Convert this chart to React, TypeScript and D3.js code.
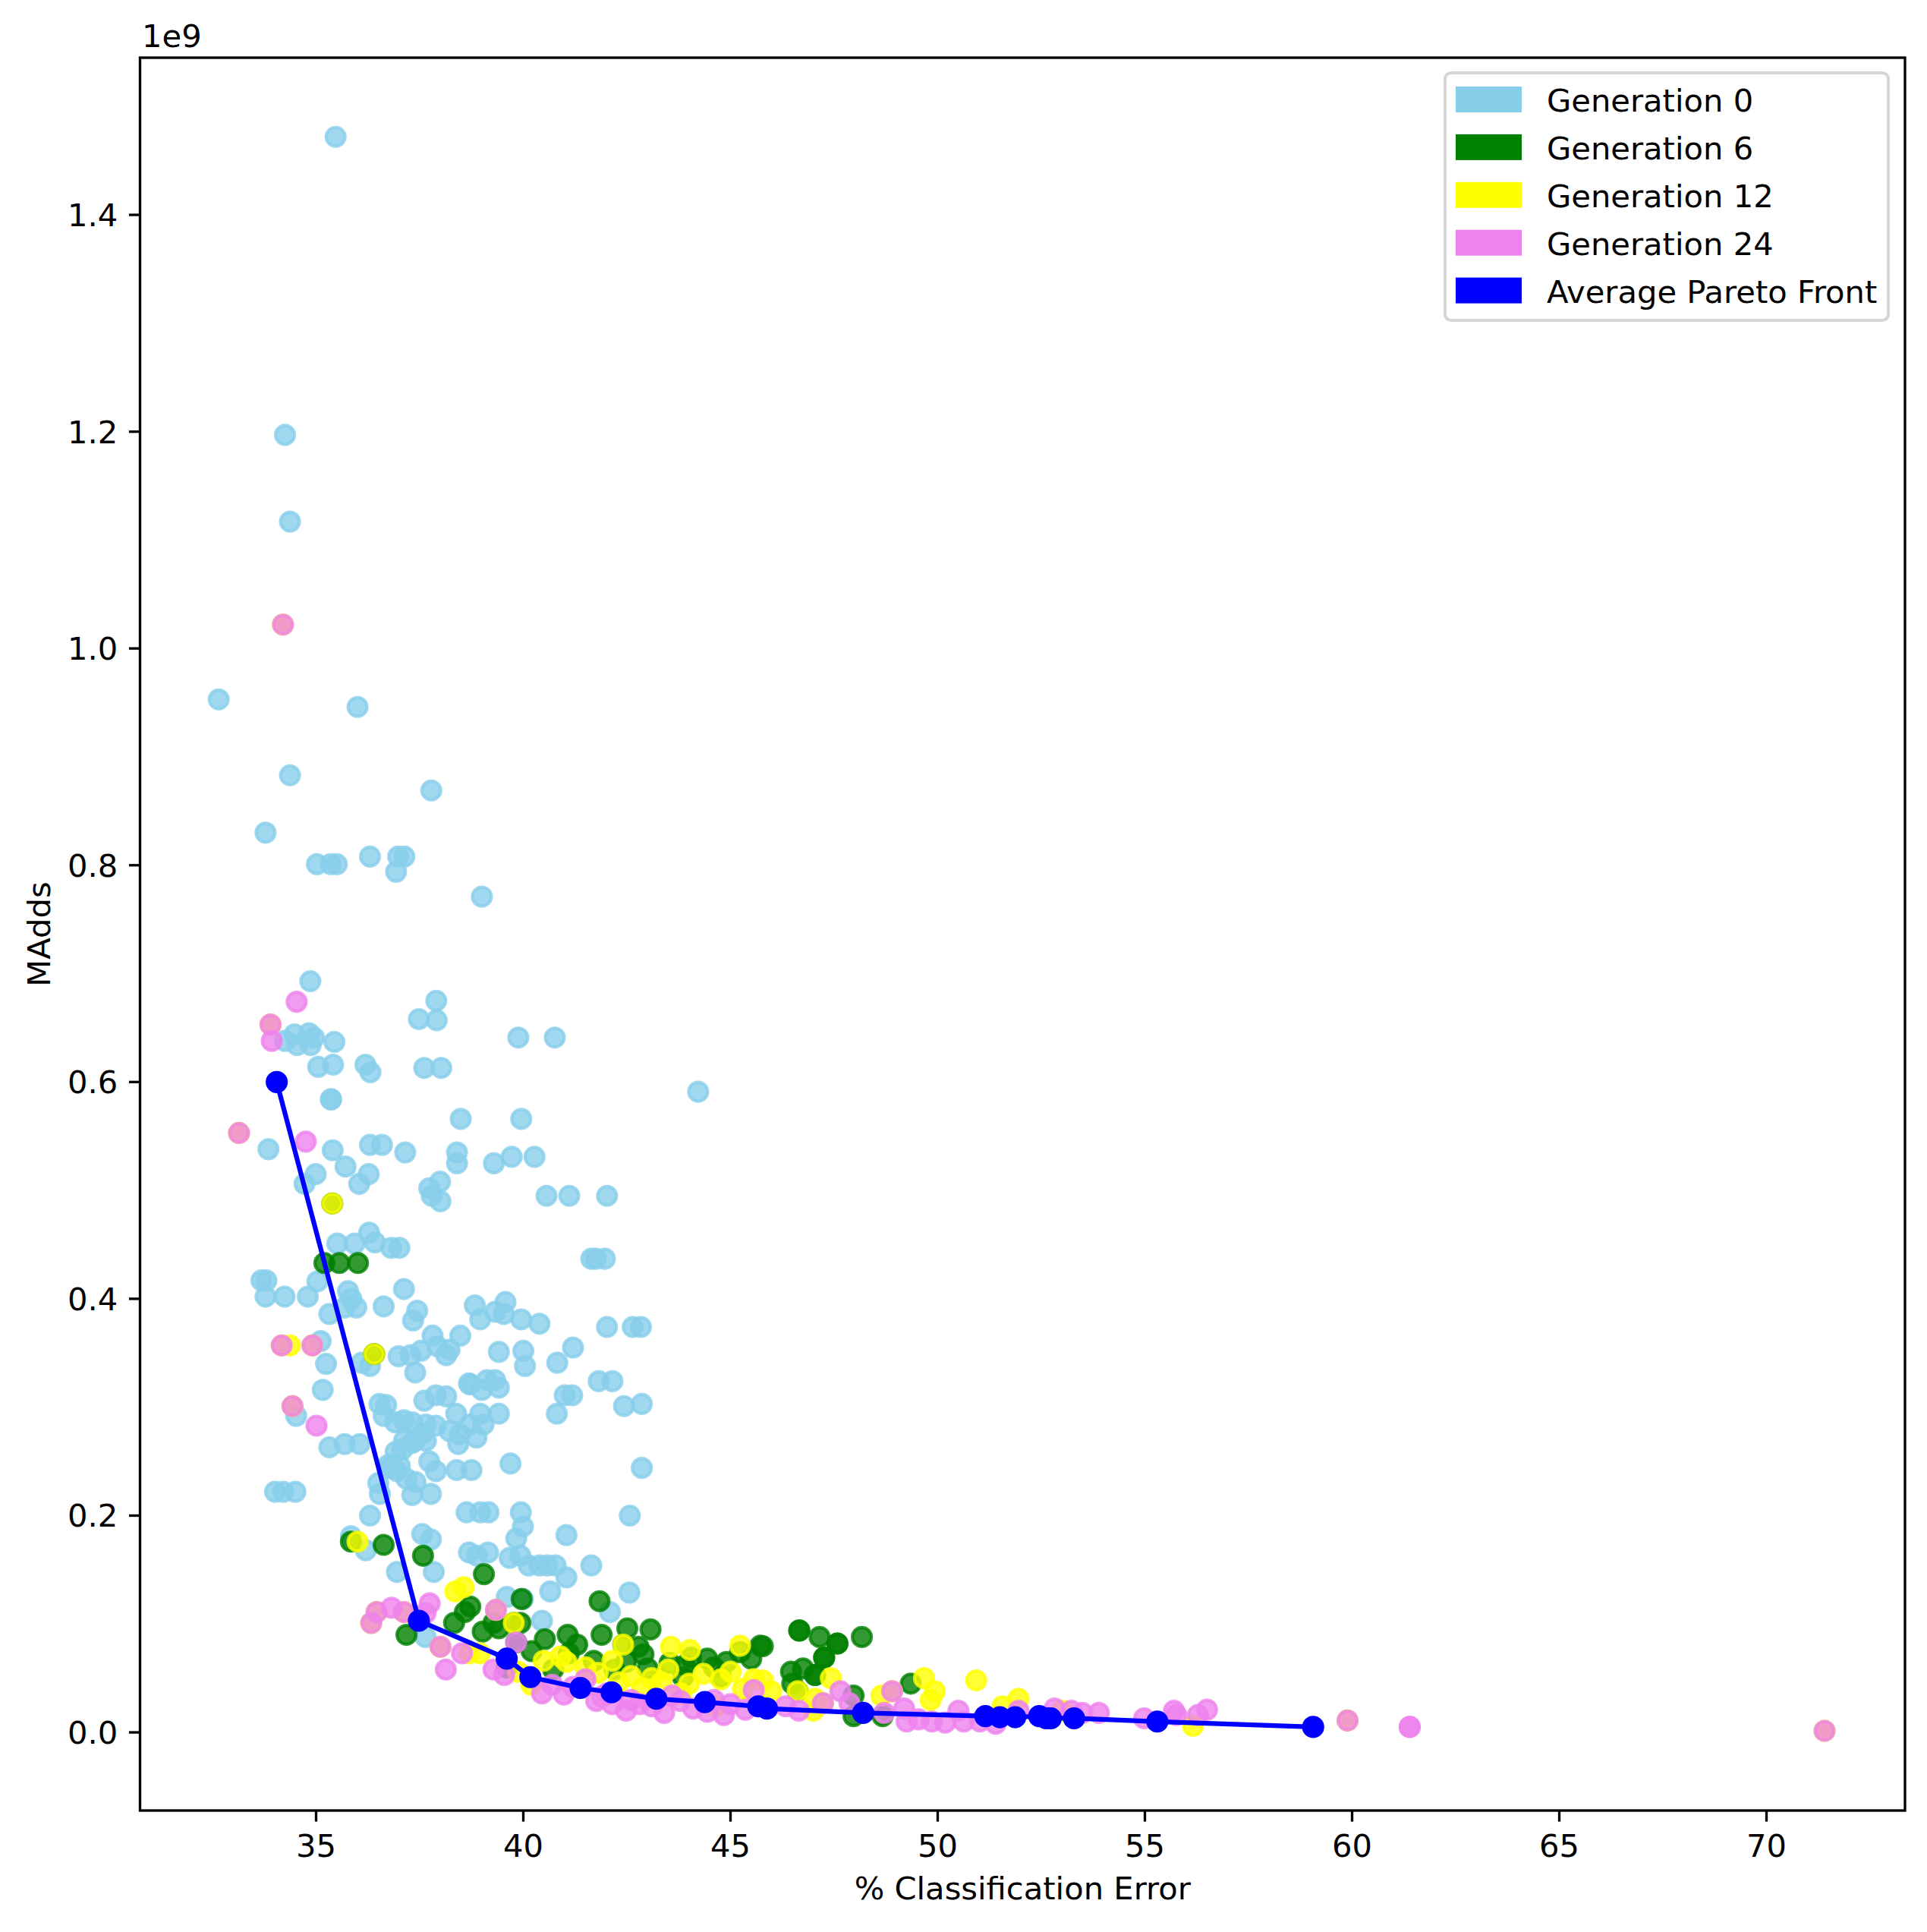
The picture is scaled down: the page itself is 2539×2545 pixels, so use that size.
import React from "react";
import * as d3 from "d3";

// MAdds values are in units of 1e9 (the axis offset shown top-left)
type Pt = [number, number];

const gen0Points: Pt[] = [
  [35.47, 1.472], [34.25, 1.197], [34.37, 1.117], [32.65, 0.953], [36.0, 0.946], [34.37, 0.883],
  [37.78, 0.869], [33.78, 0.83], [35.02, 0.801], [35.35, 0.801], [35.5, 0.801], [36.3, 0.808],
  [36.98, 0.808], [37.13, 0.808], [36.93, 0.794], [39.0, 0.771], [34.86, 0.693],
  [37.9, 0.675], [37.48, 0.658], [37.91, 0.657],
  [34.25, 0.638], [34.48, 0.644], [34.54, 0.634], [34.83, 0.645], [34.87, 0.634], [34.95, 0.641], [35.44, 0.637],
  [35.05, 0.614], [35.41, 0.616], [36.19, 0.616], [36.31, 0.609], [37.61, 0.613], [38.02, 0.613],
  [39.88, 0.641], [40.76, 0.641], [44.22, 0.591], [35.36, 0.584], [35.36, 0.584],
  [38.49, 0.566], [39.95, 0.566],
  [33.85, 0.538], [35.4, 0.537], [36.3, 0.542], [36.59, 0.542], [37.15, 0.535], [38.4, 0.535], [38.4, 0.525],
  [39.29, 0.525], [39.72, 0.531], [40.27, 0.531],
  [35.71, 0.522], [34.99, 0.515], [34.72, 0.506], [36.27, 0.515], [36.04, 0.506],
  [37.73, 0.502], [37.99, 0.508], [37.79, 0.495], [38.0, 0.49],
  [40.56, 0.495], [41.11, 0.495], [42.02, 0.495],
  [36.28, 0.461], [36.42, 0.452], [35.93, 0.451], [35.51, 0.451], [36.81, 0.447], [37.01, 0.447],
  [41.64, 0.437], [41.75, 0.437], [41.97, 0.437],
  [33.68, 0.417], [33.8, 0.417], [35.03, 0.416], [33.78, 0.402], [34.24, 0.402], [34.8, 0.402],
  [35.77, 0.407], [35.85, 0.4], [35.97, 0.392], [35.32, 0.386], [35.69, 0.392], [36.63, 0.393],
  [37.12, 0.409], [37.44, 0.389], [37.34, 0.38],
  [38.83, 0.394], [38.96, 0.381], [39.57, 0.397], [39.53, 0.386], [39.32, 0.388], [39.95, 0.381], [40.39, 0.377],
  [42.02, 0.374], [42.64, 0.374], [42.84, 0.374],
  [35.11, 0.361], [36.4, 0.349], [35.24, 0.34], [36.3, 0.338], [36.1, 0.341],
  [36.99, 0.347], [37.28, 0.348], [37.53, 0.352], [37.81, 0.366], [37.93, 0.356], [38.14, 0.348],
  [38.22, 0.353], [38.48, 0.366], [37.39, 0.332],
  [39.41, 0.351], [40.0, 0.352], [40.04, 0.338], [40.82, 0.341], [41.2, 0.355],
  [41.82, 0.324], [42.15, 0.324], [35.16, 0.316],
  [38.71, 0.321], [39.12, 0.325], [39.32, 0.325], [39.41, 0.318], [39.0, 0.316], [38.69, 0.322],
  [37.61, 0.306], [37.89, 0.311], [38.14, 0.31], [41.0, 0.311], [41.18, 0.311], [42.43, 0.301], [42.86, 0.303],
  [34.52, 0.292],
  [36.69, 0.302], [36.53, 0.303], [36.63, 0.292], [36.91, 0.286], [37.12, 0.288], [37.32, 0.286],
  [37.65, 0.284], [37.89, 0.283], [38.22, 0.278], [38.38, 0.294], [38.47, 0.275], [38.71, 0.284],
  [38.96, 0.294], [39.04, 0.284], [39.41, 0.294], [38.87, 0.272], [38.43, 0.266], [37.58, 0.276],
  [37.12, 0.269], [37.38, 0.269], [40.81, 0.294],
  [35.32, 0.263], [35.69, 0.266], [36.05, 0.266],
  [37.08, 0.261], [37.32, 0.267], [37.65, 0.269], [37.73, 0.25], [37.89, 0.241], [36.92, 0.259],
  [36.75, 0.247], [36.95, 0.241], [37.4, 0.231], [36.5, 0.23], [36.54, 0.22], [37.32, 0.219], [37.77, 0.22],
  [37.02, 0.246], [36.79, 0.244], [37.18, 0.234],
  [38.39, 0.242], [38.75, 0.242], [39.69, 0.248], [42.86, 0.244],
  [34.01, 0.222], [34.21, 0.222], [34.5, 0.222],
  [36.3, 0.2], [38.63, 0.203], [38.96, 0.203], [39.16, 0.203], [39.94, 0.203], [42.57, 0.2],
  [39.99, 0.19], [35.84, 0.181], [36.2, 0.168], [37.56, 0.183], [37.77, 0.178], [41.04, 0.182],
  [39.83, 0.179], [38.69, 0.166], [39.15, 0.166], [38.88, 0.163], [39.67, 0.161], [39.93, 0.163],
  [40.13, 0.154], [40.39, 0.154], [40.58, 0.154], [40.78, 0.154], [41.04, 0.143], [40.65, 0.13],
  [41.64, 0.154], [36.95, 0.148], [37.84, 0.148], [42.56, 0.129], [39.6, 0.125], [39.99, 0.123],
  [42.09, 0.111], [40.45, 0.103], [37.64, 0.088],
];

const gen6Points: Pt[] = [
  [35.39, 0.488], [35.2, 0.433], [35.56, 0.433], [36.01, 0.433], [36.4, 0.349],
  [35.84, 0.176], [36.63, 0.173], [37.58, 0.163], [39.05, 0.146], [41.84, 0.121],
  [38.72, 0.116], [38.59, 0.111], [38.33, 0.101], [37.18, 0.09], [39.02, 0.093], [39.41, 0.096],
  [39.28, 0.101], [39.96, 0.123], [39.93, 0.101], [39.77, 0.101], [39.83, 0.083],
  [40.52, 0.086], [41.07, 0.09], [41.3, 0.081], [41.7, 0.066], [41.89, 0.09], [42.51, 0.096],
  [43.07, 0.095], [42.48, 0.065], [42.78, 0.079], [43.0, 0.059], [43.53, 0.064], [44.05, 0.069],
  [44.44, 0.068], [44.9, 0.065], [45.23, 0.074], [45.72, 0.08], [43.85, 0.051], [44.77, 0.051],
  [39.6, 0.06], [40.72, 0.058], [42.41, 0.081], [40.2, 0.075], [41.1, 0.073], [42.9, 0.072],
  [43.9, 0.062], [44.6, 0.06], [45.5, 0.068], [42.2, 0.058],
  [45.78, 0.0795], [46.66, 0.094], [46.66, 0.094], [47.15, 0.088], [47.58, 0.082], [47.58, 0.082],
  [47.26, 0.069], [47.26, 0.069], [48.17, 0.088], [46.46, 0.056], [46.75, 0.059], [47.04, 0.053],
  [47.04, 0.053], [46.49, 0.045], [49.35, 0.045], [47.97, 0.034], [47.97, 0.015], [48.67, 0.015],
  [46.62, 0.038],
];

const gen12Points: Pt[] = [
  [34.2, 1.022], [33.9, 0.653], [33.14, 0.553], [35.39, 0.488],
  [34.17, 0.357], [34.37, 0.357], [34.91, 0.357], [36.4, 0.349], [34.43, 0.301],
  [36.0, 0.176], [38.36, 0.13], [38.56, 0.134], [39.77, 0.101], [36.33, 0.101], [36.46, 0.111],
  [37.12, 0.111], [39.34, 0.113], [38.0, 0.079], [38.95, 0.073], [38.69, 0.073],
  [40.49, 0.066], [41.04, 0.065], [41.5, 0.06], [42.41, 0.081], [42.15, 0.066], [42.87, 0.041],
  [43.33, 0.046], [43.56, 0.079], [44.02, 0.076], [44.35, 0.054], [44.77, 0.049], [45.23, 0.08],
  [44.64, 0.024], [45.56, 0.049], [39.87, 0.056], [40.19, 0.044],
  [40.9, 0.07], [41.8, 0.055], [42.6, 0.052], [43.1, 0.05], [43.5, 0.058], [44.0, 0.045],
  [45.0, 0.056], [45.3, 0.04], [43.8, 0.036], [42.3, 0.046],
  [45.78, 0.048], [45.98, 0.038], [46.62, 0.038], [47.42, 0.05], [47.04, 0.031], [47.0, 0.02],
  [47.23, 0.027], [48.64, 0.034], [48.9, 0.038], [49.67, 0.05], [49.93, 0.038], [49.83, 0.03],
  [50.93, 0.048], [51.95, 0.031], [51.56, 0.024], [53.01, 0.02], [56.16, 0.006],
  [59.89, 0.011], [71.4, 0.0014],
];

const gen24Points: Pt[] = [
  [34.2, 1.022], [34.53, 0.674], [33.9, 0.653], [33.93, 0.638], [33.14, 0.553], [34.75, 0.545],
  [34.17, 0.357], [34.91, 0.357], [34.43, 0.301], [35.01, 0.283],
  [36.33, 0.101], [36.46, 0.111], [36.82, 0.115], [37.12, 0.111], [37.74, 0.119], [37.64, 0.11],
  [39.34, 0.113], [38.0, 0.079], [38.13, 0.058], [38.52, 0.073], [39.28, 0.058], [39.54, 0.053],
  [39.83, 0.083], [40.45, 0.036], [40.98, 0.035], [41.5, 0.049], [41.76, 0.029], [42.15, 0.026],
  [42.48, 0.02], [43.4, 0.018], [43.79, 0.029], [44.44, 0.019], [44.84, 0.016], [45.36, 0.021],
  [42.02, 0.036], [42.81, 0.026], [43.59, 0.034], [45.56, 0.039], [41.2, 0.042], [41.9, 0.033],
  [42.6, 0.03], [43.1, 0.024], [44.1, 0.022], [45.0, 0.026], [40.7, 0.044], [44.6, 0.03],
  [46.33, 0.024], [46.65, 0.02], [47.23, 0.027], [47.65, 0.038], [47.87, 0.027], [48.9, 0.038],
  [48.71, 0.018], [49.19, 0.022], [49.25, 0.01], [49.54, 0.012], [49.86, 0.01], [50.18, 0.009],
  [50.5, 0.02], [50.63, 0.01], [51.02, 0.01], [51.4, 0.008], [51.95, 0.02], [52.82, 0.022],
  [53.23, 0.02], [53.49, 0.018], [53.89, 0.018], [54.98, 0.013], [55.7, 0.02],
  [55.76, 0.016], [56.28, 0.016], [56.5, 0.021], [59.89, 0.011], [61.39, 0.005], [61.39, 0.005],
  [71.4, 0.0014],
];

const paretoPoints: Pt[] = [
  [34.05, 0.6], [37.48, 0.103], [39.6, 0.068], [40.17, 0.051], [41.38, 0.041], [42.13, 0.037],
  [43.21, 0.031], [44.38, 0.028], [45.67, 0.024], [45.88, 0.022], [48.2, 0.018], [51.15, 0.015],
  [51.5, 0.014], [51.87, 0.014], [52.45, 0.015], [52.62, 0.013], [52.73, 0.013], [53.29, 0.013],
  [55.3, 0.01], [59.06, 0.005],
];

const xTicks = [35, 40, 45, 50, 55, 60, 65, 70];
const yTicks = [0, 0.2, 0.4, 0.6, 0.8, 1.0, 1.2, 1.4];

const legendLabels = ["Generation 0", "Generation 6", "Generation 12", "Generation 24", "Average Pareto Front"];
const legendColors = ["skyblue", "green", "yellow", "violet", "blue"];

const W = 2539;
const H = 2545;
const FONT = "DejaVu Sans";
const FS = 41.67; // 10pt at 300 dpi
const PT = 300 / 72;

const App: React.FC = () => {
  const margin = { left: 184.5, right: 2510, top: 76, bottom: 2385 };

  const xScale = d3.scaleLinear().domain([30.751, 73.342]).range([margin.left, margin.right]);
  const yScale = d3.scaleLinear().domain([-0.0721, 1.545]).range([margin.bottom, margin.top]);

  const paretoPath =
    d3
      .line<Pt>()
      .x((d) => xScale(d[0]))
      .y((d) => yScale(d[1]))(paretoPoints) || "";

  const scatterGroups: { pts: Pt[]; color: string }[] = [
    { pts: gen0Points, color: "skyblue" },
    { pts: gen6Points, color: "green" },
    { pts: gen12Points, color: "yellow" },
    { pts: gen24Points, color: "violet" },
  ];

  const tickLen = 3.5 * PT;
  const tickPad = 3.5 * PT;
  const spineW = 0.8 * PT;

  // legend geometry
  const legX = 1904;
  const legY = 96;
  const legW = 584;
  const legH = 326;
  const rowY0 = 131;
  const rowStep = 62.9;

  return (
    <svg
      width={W}
      height={H}
      style={{ position: "absolute", left: 0, top: 0, background: "white" }}
      fontFamily={FONT}
    >
      <rect x={0} y={0} width={W} height={H} fill="white" />

      {/* scatter */}
      {scatterGroups.map((g, gi) => (
        <g key={gi}>
          {g.pts.map((p, i) => (
            <circle
              key={i}
              cx={xScale(p[0])}
              cy={yScale(p[1])}
              r={12.5}
              fill={g.color}
              fillOpacity={0.8}
              stroke={g.color}
              strokeOpacity={0.8}
              strokeWidth={1 * PT}
            />
          ))}
        </g>
      ))}

      {/* pareto front */}
      <path d={paretoPath} fill="none" stroke="blue" strokeWidth={1.5 * PT} strokeLinejoin="round" />
      {paretoPoints.map((p, i) => (
        <circle key={i} cx={xScale(p[0])} cy={yScale(p[1])} r={12.5} fill="blue" stroke="blue" strokeWidth={1 * PT} />
      ))}

      {/* spines */}
      <rect
        x={margin.left}
        y={margin.top}
        width={margin.right - margin.left}
        height={margin.bottom - margin.top}
        fill="none"
        stroke="black"
        strokeWidth={spineW}
      />

      {/* x axis */}
      {xTicks.map((t) => (
        <g key={t}>
          <line x1={xScale(t)} x2={xScale(t)} y1={margin.bottom} y2={margin.bottom + tickLen} stroke="black" strokeWidth={spineW} />
          <text x={xScale(t)} y={margin.bottom + tickLen + tickPad + 32} textAnchor="middle" fontSize={FS} fill="black">
            {t}
          </text>
        </g>
      ))}
      <text x={(margin.left + margin.right) / 2} y={2502} textAnchor="middle" fontSize={FS} fill="black">
        % Classification Error
      </text>

      {/* y axis */}
      {yTicks.map((t) => (
        <g key={t}>
          <line x1={margin.left - tickLen} x2={margin.left} y1={yScale(t)} y2={yScale(t)} stroke="black" strokeWidth={spineW} />
          <text x={margin.left - tickLen - tickPad} y={yScale(t) + 15} textAnchor="end" fontSize={FS} fill="black">
            {t.toFixed(1)}
          </text>
        </g>
      ))}
      <text x={187} y={62} fontSize={FS} fill="black">
        1e9
      </text>
      <text
        transform={`translate(66, ${(margin.top + margin.bottom) / 2}) rotate(-90)`}
        textAnchor="middle"
        fontSize={FS}
        fill="black"
      >
        MAdds
      </text>

      {/* legend */}
      <rect x={legX} y={legY} width={legW} height={legH} rx={8} ry={8} fill="white" fillOpacity={0.8} stroke="#cccccc" strokeOpacity={0.8} strokeWidth={1 * PT} />
      {legendLabels.map((label, i) => {
        const cy = rowY0 + i * rowStep;
        return (
          <g key={label}>
            <rect x={1918} y={cy - 17} width={87} height={34} fill={legendColors[i]} />
            <text x={2038} y={cy + 16} fontSize={FS} fill="black">
              {label}
            </text>
          </g>
        );
      })}
    </svg>
  );
};

export default App;
